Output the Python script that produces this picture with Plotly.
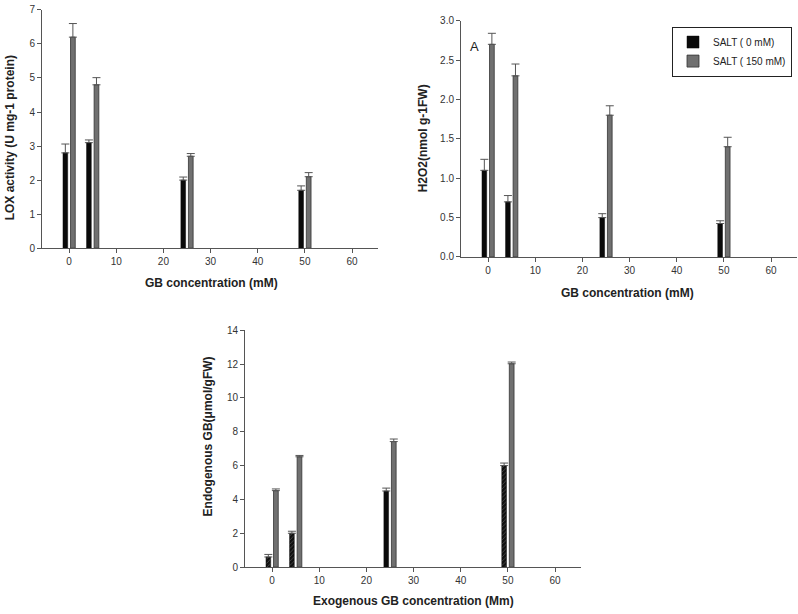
import plotly.graph_objects as go

gb_conc = [0, 5, 25, 50]
series_names = ["SALT ( 0 mM)", "SALT ( 150 mM)"]

lox_salt0 = [2.8, 3.1, 2.0, 1.7]
lox_salt0_err = [0.26, 0.08, 0.09, 0.13]
lox_salt150 = [6.2, 4.8, 2.7, 2.1]
lox_salt150_err = [0.40, 0.21, 0.08, 0.12]

h2o2_salt0 = [1.10, 0.70, 0.50, 0.425]
h2o2_salt0_err = [0.14, 0.08, 0.05, 0.035]
h2o2_salt150 = [2.70, 2.30, 1.80, 1.40]
h2o2_salt150_err = [0.14, 0.15, 0.12, 0.12]

endo_salt0 = [0.6, 2.0, 4.5, 6.0]
endo_salt0_err = [0.15, 0.12, 0.17, 0.15]
endo_salt150 = [4.52, 6.52, 7.42, 12.02]
endo_salt150_err = [0.10, 0.08, 0.15, 0.10]

y_ticks_lox = [0, 1, 2, 3, 4, 5, 6, 7]
y_ticks_h2o2 = [0.0, 0.5, 1.0, 1.5, 2.0, 2.5, 3.0]
y_ticks_endo = [0, 2, 4, 6, 8, 10, 12, 14]
x_ticks = [0, 10, 20, 30, 40, 50, 60]

BLACK = "#0a0a0a"
GRAY = "#707070"
AXC = "#555555"
FONT = "Liberation Sans, Arial, sans-serif"

fig = go.Figure()


def err(vals):
    return dict(type="data", symmetric=False, array=vals, arrayminus=[0] * len(vals),
                color="#555555", thickness=1, width=4)


def add_pair(y0, e0, y1, e1, xa, ya, legend, patterned=False):
    m0 = dict(color=BLACK, line=dict(color=BLACK, width=0.5))
    if patterned:
        m0["pattern"] = dict(shape=["/", "/", "", "/"], bgcolor="#111111",
                             fgcolor="#9a9a9a", size=3, solidity=0.25)
    fig.add_trace(go.Bar(x=gb_conc, y=y0, width=1.0, offset=-1.3, marker=m0,
                         error_y=err(e0), name=series_names[0], showlegend=legend,
                         xaxis=xa, yaxis=ya))
    fig.add_trace(go.Bar(x=gb_conc, y=y1, width=1.0, offset=0.3,
                         marker=dict(color=GRAY, line=dict(color="#333333", width=0.8)),
                         error_y=err(e1), name=series_names[1], showlegend=legend,
                         xaxis=xa, yaxis=ya))


add_pair(lox_salt0, lox_salt0_err, lox_salt150, lox_salt150_err, "x", "y", False)
add_pair(h2o2_salt0, h2o2_salt0_err, h2o2_salt150, h2o2_salt150_err, "x2", "y2", True)
add_pair(endo_salt0, endo_salt0_err, endo_salt150, endo_salt150_err, "x3", "y3", False, True)

W, H = 798, 614


def xd(a, b):
    return [a / W, b / W]


def yd(top, bottom):
    return [1 - bottom / H, 1 - top / H]


xcommon = dict(range=[-5.75, 65.5], tickvals=x_ticks, ticks="outside", ticklen=4,
               tickcolor=AXC, showline=True, linecolor=AXC, linewidth=1,
               showgrid=False, zeroline=False, tickfont=dict(size=10, color="#333333", family=FONT))
ycommon = dict(ticks="outside", ticklen=4, tickcolor=AXC, showline=True, linecolor=AXC,
               linewidth=1, showgrid=False, zeroline=False,
               tickfont=dict(size=10, color="#333333", family=FONT))

fig.update_layout(
    width=W, height=H, margin=dict(l=0, r=0, t=0, b=0),
    paper_bgcolor="white", plot_bgcolor="white", barmode="overlay",
    font=dict(family=FONT, color="#222222"),
    xaxis=dict(domain=xd(42, 378), anchor="y", **xcommon),
    yaxis=dict(domain=yd(4, 247), anchor="x", range=[0, 7], tickvals=y_ticks_lox, **ycommon),
    xaxis2=dict(domain=xd(461, 797), anchor="y2", **xcommon),
    yaxis2=dict(domain=yd(15, 256), anchor="x2", range=[0, 3.0], tickvals=y_ticks_h2o2,
                tickformat=".1f", **ycommon),
    xaxis3=dict(domain=xd(245, 581), anchor="y3", **xcommon),
    yaxis3=dict(domain=yd(330.7, 572.3), anchor="x3", range=[0, 14], tickvals=y_ticks_endo, **ycommon),
    legend=dict(x=672 / W, y=1 - 21 / H, xanchor="left", yanchor="top",
                bordercolor="#222222", borderwidth=1, bgcolor="white",
                font=dict(size=10, color="#222222", family=FONT),
                tracegroupgap=0, itemwidth=30),
)

title_font = dict(size=12, color="#222222", family=FONT)
annots = [
    dict(text="<b>LOX activity (U mg-1 protein)</b>", x=10 / W, y=1 - 135 / H, textangle=-90),
    dict(text="<b>GB concentration (mM)</b>", x=211 / W, y=1 - 283 / H),
    dict(text="<b>H2O2(nmol g-1FW)</b>", x=423 / W, y=1 - 135 / H, textangle=-90),
    dict(text="<b>GB concentration (mM)</b>", x=627 / W, y=1 - 293 / H),
    dict(text="<b>Endogenous GB(μmol/gFW)</b>", x=208 / W, y=1 - 439 / H, textangle=-90),
    dict(text="<b>Exogenous GB concentration (Mm)</b>", x=413 / W, y=1 - 607 / H),
]
for a in annots:
    fig.add_annotation(xref="paper", yref="paper", showarrow=False, xanchor="center",
                       yanchor="middle", font=title_font, **a)
fig.add_annotation(text="A", xref="paper", yref="paper", x=474 / W, y=1 - 32 / H,
                   showarrow=False, font=dict(size=13, color="#222222", family=FONT))

fig.write_html(
    "out.html",
    config={"displayModeBar": False},
    post_script="document.body.style.margin='0';document.body.style.padding='0';"
                "document.body.style.overflow='hidden';",
)
